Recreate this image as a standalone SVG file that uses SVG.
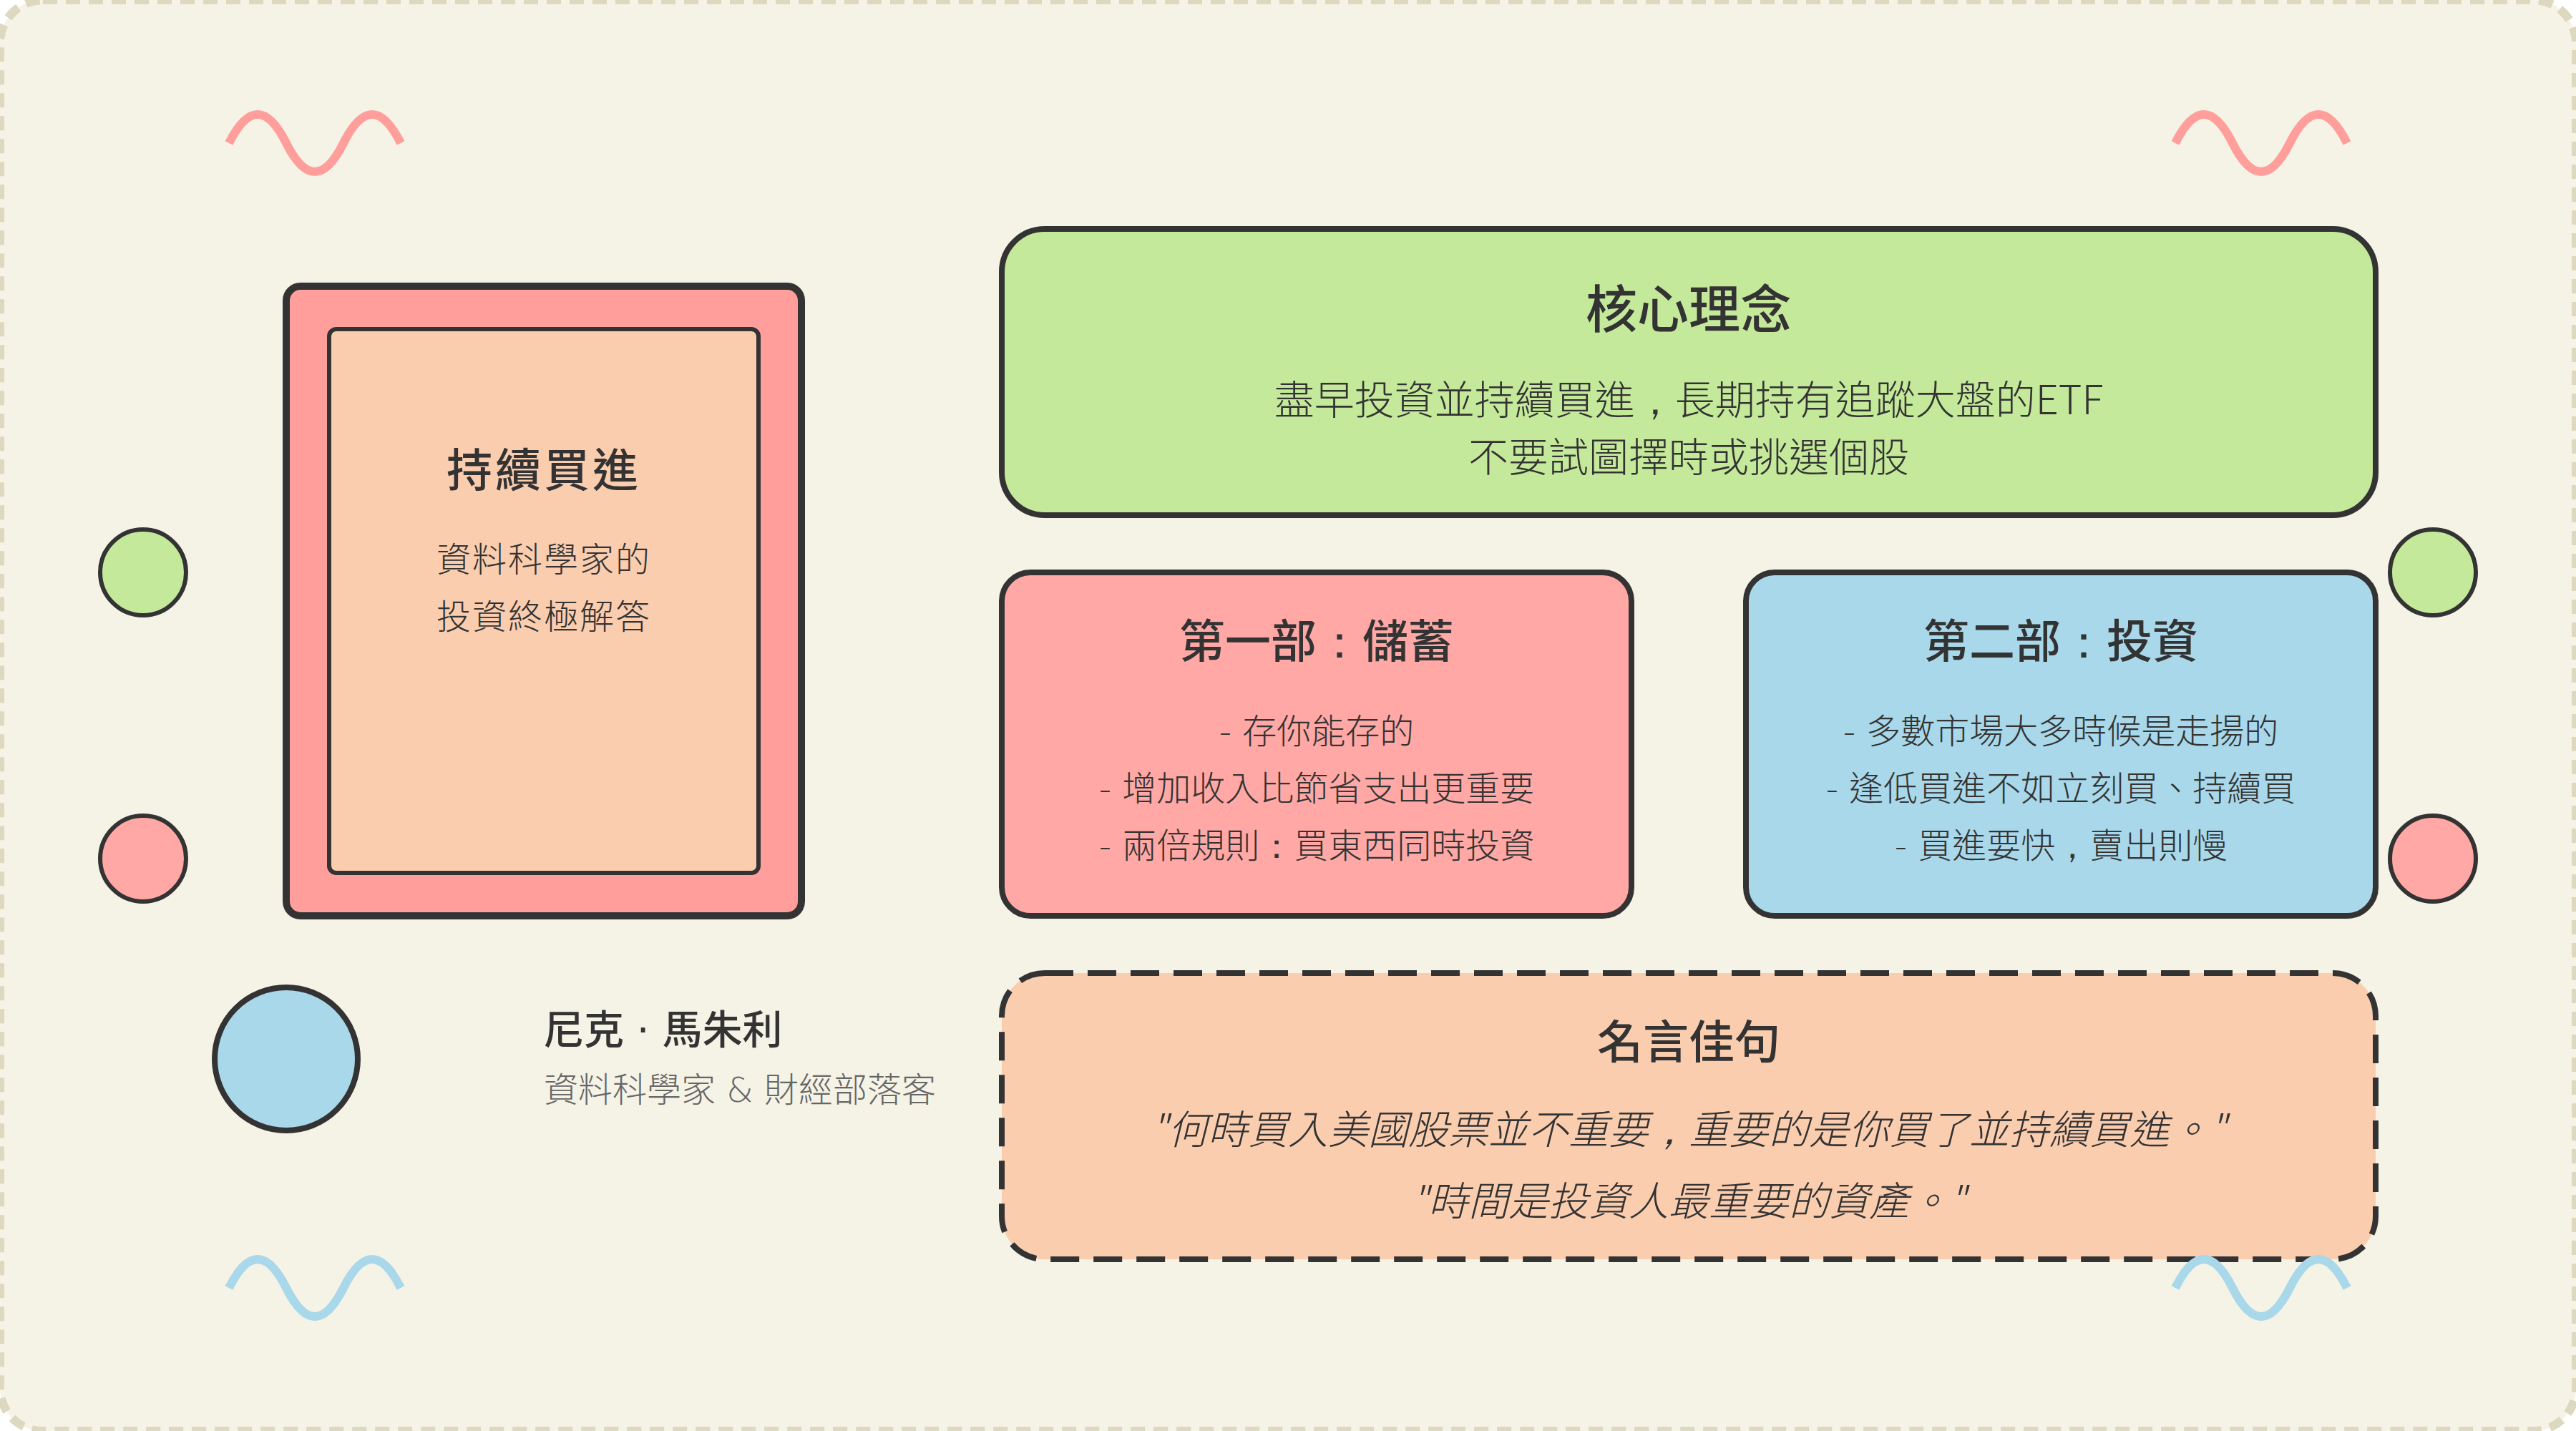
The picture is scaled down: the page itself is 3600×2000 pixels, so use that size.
<svg xmlns="http://www.w3.org/2000/svg" width="3600" height="2000" viewBox="0 0 3600 2000">
<style>
text{font-family:"DejaVu Sans","Noto Sans CJK TC",sans-serif;fill:#333;text-anchor:middle}
.tc{font-family:"Noto Sans CJK TC",sans-serif}
.p{font-family:"DejaVu Sans",sans-serif}
.card{stroke:#333;stroke-width:8}
.dot{stroke:#333;stroke-width:6}
.wave{fill:none;stroke-width:12}
.h1{font-size:72px;font-weight:500}
.h2{font-size:64px;font-weight:500}
.b1{font-size:56px;font-weight:300}
.b2{font-size:48px;font-weight:300}
.it{font-size:56px;font-weight:300;font-style:italic}
</style>
<rect id="background" x="0" y="0" width="3600" height="2000" rx="60" ry="60" fill="#f5f2e6" stroke="#ddd8c0" stroke-width="12" stroke-dasharray="20 12"/>
<g id="decor">
<path class="wave" stroke="#ff9e9b" d="M320 200Q360 120 400 200T480 200T560 200"/>
<path class="wave" stroke="#ff9e9b" d="M3040 200Q3080 120 3120 200T3200 200T3280 200"/>
<path class="wave" stroke="#a8d8ea" d="M320 1800Q360 1720 400 1800T480 1800T560 1800"/>
<circle class="dot" cx="200" cy="800" r="60" fill="#c5e99b"/>
<circle class="dot" cx="200" cy="1200" r="60" fill="#ffa8a5"/>
<circle class="dot" cx="3400" cy="800" r="60" fill="#c5e99b"/>
<circle class="dot" cx="3400" cy="1200" r="60" fill="#ffa8a5"/>
</g>
<g id="book">
<rect x="400" y="400" width="720" height="880" rx="20" ry="20" fill="#ff9e9b" stroke="#333" stroke-width="10"/>
<rect x="460" y="460" width="600" height="760" rx="10" ry="10" fill="#fbcdaf" stroke="#333" stroke-width="6"/>
<text x="760" y="680" font-size="64" font-weight="500" letter-spacing="4">持續買進</text>
<text x="760" y="799" font-size="48" font-weight="300" letter-spacing="2">資料科學家的</text>
<text x="760" y="879" font-size="48" font-weight="300" letter-spacing="2">投資終極解答</text>
</g>
<g id="author">
<circle cx="400" cy="1480" r="100" fill="#a8d8ea" stroke="#333" stroke-width="8"/>
<text x="760" y="1459" font-size="56" font-weight="500" style="text-anchor:start">尼克 · 馬朱利</text>
<text x="760" y="1540" font-size="48" font-weight="300" style="text-anchor:start;fill:#666">資料科學家 &amp; 財經部落客</text>
</g>
<g id="core">
<rect class="card" x="1400" y="320" width="1920" height="400" rx="60" ry="60" fill="#c5e99b"/>
<text class="h1" x="2360" y="458">核心理念</text>
<text class="b1" x="2360" y="579">盡早投資並持續買進<tspan class="p">，</tspan>長期持有追蹤大盤的<tspan class="tc">ETF</tspan></text>
<text class="b1" x="2360" y="659">不要試圖擇時或挑選個股</text>
</g>
<g id="part1">
<rect class="card" x="1400" y="800" width="880" height="480" rx="40" ry="40" fill="#ffa8a5"/>
<text class="h2" x="1840" y="919">第一部<tspan class="p">：</tspan>儲蓄</text>
<text class="b2" x="1840" y="1039">- 存你能存的</text>
<text class="b2" x="1840" y="1119">- 增加收入比節省支出更重要</text>
<text class="b2" x="1840" y="1199">- 兩倍規則<tspan class="p">：</tspan>買東西同時投資</text>
</g>
<g id="part2">
<rect class="card" x="2440" y="800" width="880" height="480" rx="40" ry="40" fill="#a8d8ea"/>
<text class="h2" x="2880" y="919">第二部<tspan class="p">：</tspan>投資</text>
<text class="b2" x="2880" y="1039">- 多數市場大多時候是走揚的</text>
<text class="b2" x="2880" y="1119">- 逢低買進不如立刻買、持續買</text>
<text class="b2" x="2880" y="1199">- 買進要快<tspan class="p">，</tspan>賣出則慢</text>
</g>
<g id="quote">
<rect x="1400" y="1360" width="1920" height="400" rx="60" ry="60" fill="#fbcdaf" stroke="#333" stroke-width="8" stroke-dasharray="40 20"/>
<text class="h2" x="2360" y="1479">名言佳句</text>
<text class="it" x="2360" y="1599"><tspan class="tc">"</tspan>何時買入美國股票並不重要<tspan class="p">，</tspan>重要的是你買了並持續買進。<tspan class="tc">"</tspan></text>
<text class="it" x="2360" y="1699"><tspan class="tc">"</tspan>時間是投資人最重要的資產。<tspan class="tc">"</tspan></text>
</g>
<path id="wave-br" class="wave" stroke="#a8d8ea" d="M3040 1800Q3080 1720 3120 1800T3200 1800T3280 1800"/>
</svg>
